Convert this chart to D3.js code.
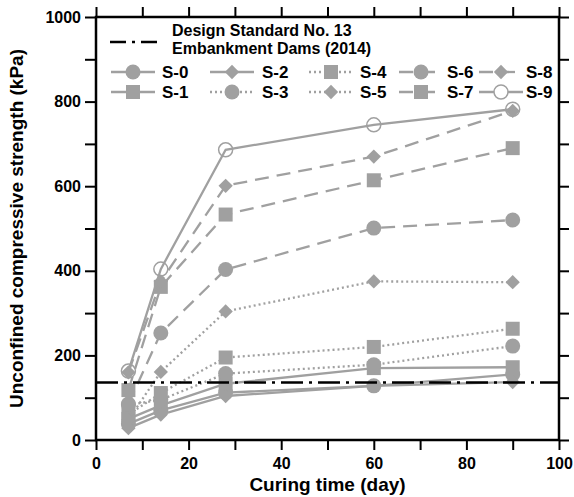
<!DOCTYPE html>
<html>
<head>
<meta charset="utf-8">
<script src="https://cdn.jsdelivr.net/npm/d3@7"></script>
<style>
  body { margin: 0; background: #fff; }
  text { font-family: "Liberation Sans", Arial, sans-serif; font-weight: bold; }
</style>
</head>
<body>
<div id="chart"></div>
<script>
// curing days
var days = [7, 14, 28, 60, 90];

// series names
var names = ["S-0", "S-1", "S-2", "S-3", "S-4", "S-5", "S-6", "S-7", "S-8", "S-9"];

// UCS values (kPa), one list per series
var s0 = [38, 70, 112, 128, 155];
var s1 = [50, 82, 133, 170, 172];
var s2 = [28, 60, 104, 128, 137];
var s3 = [83, 95, 157, 178, 222];
var s4 = [60, 111, 195, 220, 263];
var s5 = [48, 161, 304, 375, 373];
var s6 = [85, 253, 403, 501, 520];
var s7 = [118, 362, 533, 614, 690];
var s8 = [160, 375, 601, 670, 778];
var s9 = [163, 404, 686, 745, 782];
var allValues = [s0, s1, s2, s3, s4, s5, s6, s7, s8, s9];

// design standard limit
var designLimit = 136;
var designLabel = ["Design Standard No. 13", "Embankment Dams (2014)"];

// tick values
var xTicks = [0, 10, 20, 30, 40, 50, 60, 70, 80, 90, 100];
var yTicks = [0, 100, 200, 300, 400, 500, 600, 700, 800, 900, 1000];

// line style / marker of each series
var dashes = ["none", "none", "none", "2,3", "2,3", "2,3", "14,8", "14,8", "14,8", "none"];
var shapes = ["circle", "square", "diamond", "circle", "square", "diamond", "circle", "square", "diamond", "open"];

var grey = "#a0a0a0";

var W = 574, H = 497;
var plotL = 96, plotR = 559, plotT = 17, plotB = 440;

var x = d3.scaleLinear().domain([0, 100]).range([plotL, plotR]);
var y = d3.scaleLinear().domain([0, 1000]).range([plotB, plotT]);

var svg = d3.select("#chart").append("svg")
    .attr("width", W)
    .attr("height", H);

// markers
function drawMarker(g, shape, cx, cy) {
    if (shape == "circle") {
        g.append("circle").attr("cx", cx).attr("cy", cy).attr("r", 7.5).attr("fill", grey);
    } else if (shape == "open") {
        g.append("circle").attr("cx", cx).attr("cy", cy).attr("r", 7)
            .attr("fill", "none").attr("stroke", grey).attr("stroke-width", 1.5);
    } else if (shape == "square") {
        g.append("rect").attr("x", cx - 7).attr("y", cy - 7).attr("width", 14).attr("height", 14).attr("fill", grey);
    } else {
        g.append("path").attr("d", d3.symbol(d3.symbolDiamond2, 130)()).attr("transform", "translate(" + cx + "," + cy + ")")
            .attr("fill", grey);
    }
}

var line = d3.line()
    .x(function (d) { return x(d[0]); })
    .y(function (d) { return y(d[1]); });

// series lines + markers
allValues.forEach(function (vals, i) {
    var pts = days.map(function (d, j) { return [d, vals[j]]; });
    var g = svg.append("g");
    g.append("path")
        .datum(pts)
        .attr("d", line)
        .attr("fill", "none")
        .attr("stroke", grey)
        .attr("stroke-width", 2.3)
        .attr("stroke-dasharray", dashes[i]);
    pts.forEach(function (p) {
        drawMarker(g, shapes[i], x(p[0]), y(p[1]));
    });
});

// design standard line
svg.append("line")
    .attr("x1", x(0)).attr("x2", x(100))
    .attr("y1", y(designLimit)).attr("y2", y(designLimit))
    .attr("stroke", "#000")
    .attr("stroke-width", 2.5)
    .attr("stroke-dasharray", "22,6,3,6");

// axes
svg.append("g")
    .attr("transform", "translate(0," + plotB + ")")
    .call(d3.axisBottom(x).tickValues(xTicks).tickSize(10).tickSizeOuter(0).tickPadding(8)
        .tickFormat(function (d) { return d % 20 == 0 ? d : ""; }));
svg.append("g")
    .attr("transform", "translate(0," + plotT + ")")
    .call(d3.axisTop(x).tickValues(xTicks).tickSize(10).tickSizeOuter(0).tickFormat(""));
svg.append("g")
    .attr("transform", "translate(" + plotL + ",0)")
    .call(d3.axisLeft(y).tickValues(yTicks).tickSize(11).tickSizeOuter(0).tickPadding(4)
        .tickFormat(function (d) { return d % 200 == 0 ? d : ""; }));
svg.append("g")
    .attr("transform", "translate(" + plotR + ",0)")
    .call(d3.axisRight(y).tickValues(yTicks).tickSize(10).tickSizeOuter(0).tickFormat(""));

svg.selectAll(".tick line").attr("stroke", "#000").attr("stroke-width", 2);
svg.selectAll(".domain").remove();
svg.selectAll(".tick text")
    .attr("fill", "#000")
    .style("font-size", "16px")
    .style("font-family", "Liberation Sans, Arial, sans-serif")
    .style("font-weight", "bold");

// frame
svg.append("rect")
    .attr("x", plotL).attr("y", plotT)
    .attr("width", plotR - plotL).attr("height", plotB - plotT)
    .attr("fill", "none")
    .attr("stroke", "#000")
    .attr("stroke-width", 2.5);

// axis titles
svg.append("text")
    .attr("x", (plotL + plotR) / 2)
    .attr("y", 491)
    .attr("text-anchor", "middle")
    .style("font-size", "19px")
    .text("Curing time (day)");
svg.append("text")
    .attr("transform", "translate(23," + ((plotT + plotB) / 2) + ") rotate(-90)")
    .attr("text-anchor", "middle")
    .style("font-size", "19px")
    .text("Unconfined compressive strength (kPa)");

// legend
var leg = svg.append("g");
leg.append("line")
    .attr("x1", 110).attr("x2", 160).attr("y1", 42).attr("y2", 42)
    .attr("stroke", "#000").attr("stroke-width", 2.5)
    .attr("stroke-dasharray", "16,6,3,6");
designLabel.forEach(function (t, i) {
    leg.append("text")
        .attr("x", 172).attr("y", 36 + i * 18)
        .style("font-size", "16px")
        .text(t);
});

var colSym = [133, 232, 331, 421, 501];
var colText = [162, 262, 360, 447, 526];
names.forEach(function (n, i) {
    var col = Math.floor(i / 2), row = i % 2;
    var cy = 72 + row * 20;
    var cx = colSym[col];
    leg.append("line")
        .attr("x1", cx - 22).attr("x2", cx + 22).attr("y1", cy).attr("y2", cy)
        .attr("stroke", grey).attr("stroke-width", 2.3)
        .attr("stroke-dasharray", dashes[i]);
    if (shapes[i] == "open") {
        leg.append("circle").attr("cx", cx).attr("cy", cy).attr("r", 7)
            .attr("fill", "#fff").attr("stroke", grey).attr("stroke-width", 1.5);
    } else {
        drawMarker(leg, shapes[i], cx, cy);
    }
    leg.append("text")
        .attr("x", colText[col]).attr("y", cy + 6)
        .style("font-size", "17px")
        .text(n);
});
</script>
</body>
</html>
